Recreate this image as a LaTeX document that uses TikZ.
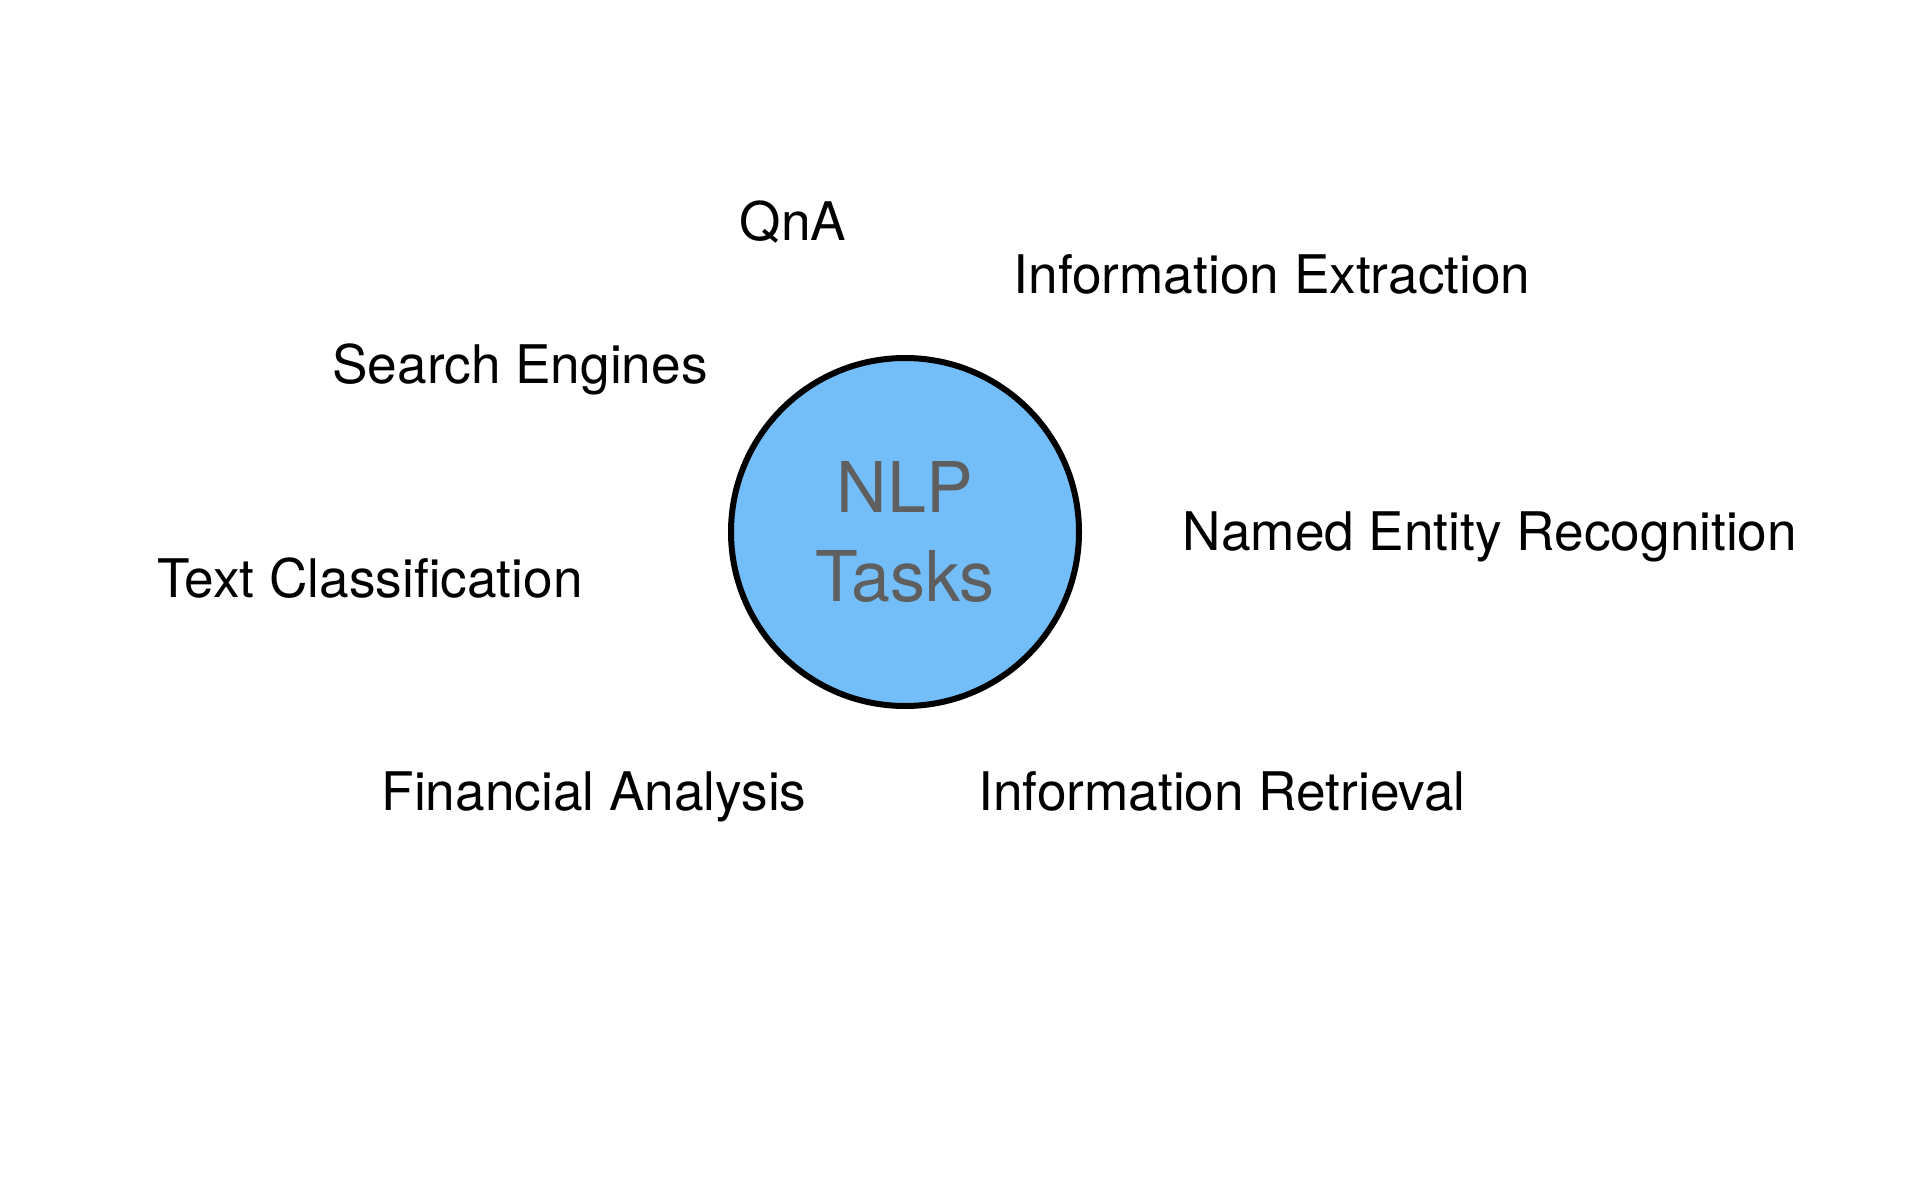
\documentclass[tikz,border=0pt]{standalone}
\usepackage{fontspec}
\setmainfont{TeX Gyre Heros}
\definecolor{nlpblue}{RGB}{115,190,248}
\definecolor{nlpgray}{RGB}{95,95,95}
\tikzset{
  task/.style={anchor=base, inner sep=0pt, font=\fontsize{26.6}{32}\selectfont, text=black},
  hub/.style={circle, draw=black, line width=3pt, fill=nlpblue, minimum size=174pt, inner sep=0pt,
    align=center, text=nlpgray, font=\fontsize{35}{44.5}\selectfont}
}
\begin{document}
\begin{tikzpicture}[x=0.5pt,y=-0.5pt]
\useasboundingbox (0,0) rectangle (1924,1204);
\node[hub] (nlp) at (905,532) {NLP\\Tasks};
\node[task] (qna) at (793,241) {QnA};
\node[task] (ie) at (1272,293) {Information Extraction};
\node[task] (se) at (520,383) {Search Engines};
\node[task] (ner) at (1490,550) {Named Entity Recognition};
\node[task] (tc) at (370,597) {Text Classification};
\node[task] (fa) at (594,810) {Financial Analysis};
\node[task] (ir) at (1222,810) {Information Retrieval};
\end{tikzpicture}
\end{document}
